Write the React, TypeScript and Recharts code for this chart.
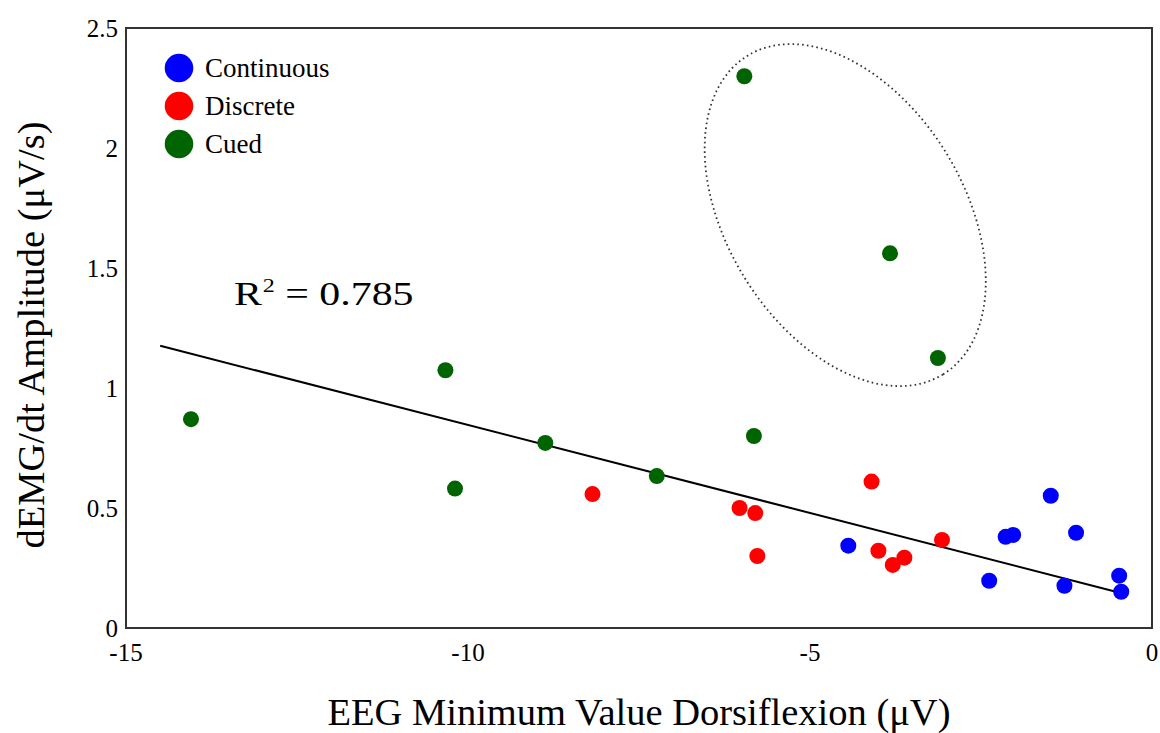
import React from "react";
import {
  ReferenceArea,
  ReferenceDot,
  ReferenceLine,
  Scatter,
  ScatterChart,
  XAxis,
  YAxis,
} from "recharts";

const FONT = '"Liberation Serif", "Times New Roman", serif';

// points: EEG minimum (µV) vs dEMG/dt amplitude (µV/s)
const continuous = [
  { x: -4.44, y: 0.343 },
  { x: -2.38, y: 0.197 },
  { x: -2.14, y: 0.38 },
  { x: -2.03, y: 0.388 },
  { x: -1.48, y: 0.551 },
  { x: -1.11, y: 0.397 },
  { x: -1.28, y: 0.176 },
  { x: -0.48, y: 0.218 },
  { x: -0.45, y: 0.151 },
];

const discrete = [
  { x: -8.18, y: 0.558 },
  { x: -6.03, y: 0.5 },
  { x: -5.8, y: 0.479 },
  { x: -5.77, y: 0.3 },
  { x: -4.1, y: 0.61 },
  { x: -4.0, y: 0.322 },
  { x: -3.79, y: 0.263 },
  { x: -3.62, y: 0.293 },
  { x: -3.07, y: 0.367 },
];

const cued = [
  { x: -14.05, y: 0.87 },
  { x: -10.33, y: 1.074 },
  { x: -10.19, y: 0.581 },
  { x: -8.87, y: 0.771 },
  { x: -7.24, y: 0.633 },
  { x: -5.82, y: 0.8 },
  { x: -5.96, y: 2.299 },
  { x: -3.83, y: 1.561 },
  { x: -3.13, y: 1.125 },
];

const trendline = [
  { x: -14.5, y: 1.176 },
  { x: -0.4, y: 0.142 },
];

// bounding box of the dotted outlier ellipse, in data units
const outlierBox = { x1: -6.54, x2: -2.43, y1: 1.008, y2: 2.433 };

const xTicks = [-15, -10, -5, 0];
const yTicks = [0, 0.5, 1, 1.5, 2, 2.5];

const series = [
  { name: "Continuous", color: "#0000ff", data: continuous },
  { name: "Discrete", color: "#ff0000", data: discrete },
  { name: "Cued", color: "#006400", data: cued },
];

const dotShape = (color: string) => (p: any) =>
  <circle cx={p.cx} cy={p.cy} r={8} fill={color} />;

// rotated ellipse that fits the given bounding rect
function EllipseShape(p: any) {
  const { x, y, width, height } = p;
  const W = width / 2;
  const H = height / 2;
  const deg = 58.5;
  const t = (deg * Math.PI) / 180;
  const c2 = Math.cos(t) ** 2;
  const s2 = Math.sin(t) ** 2;
  const d = c2 - s2;
  const a = Math.sqrt(Math.max(1, (W * W * c2 - H * H * s2) / d));
  const b = Math.sqrt(Math.max(1, (H * H * c2 - W * W * s2) / d));
  const cx = x + W;
  const cy = y + H;
  return (
    <ellipse
      cx={cx}
      cy={cy}
      rx={a}
      ry={b}
      transform={`rotate(${deg} ${cx} ${cy})`}
      fill="none"
      stroke="#333"
      strokeWidth={1.8}
      strokeDasharray="1.6 3.2"
    />
  );
}

// the R² annotation is drawn a bit wide in the original, hence the x-stretch
function R2Label(p: any) {
  const { viewBox } = p;
  return (
    <text
      x={0}
      y={0}
      transform={`translate(${viewBox.x} ${viewBox.y}) scale(1.27 1)`}
      style={{ fontFamily: FONT }}
      fontSize={33}
      fill="#000"
    >
      <tspan>R</tspan>
      <tspan dx={0.5} dy={-13} fontSize={19}>2</tspan>
      <tspan dy={13} fontSize={33}> = 0.785</tspan>
    </text>
  );
}

function LegendBox() {
  return (
    <div
      style={{
        position: "absolute",
        left: 164,
        top: 49,
        fontFamily: FONT,
        fontSize: 27,
        color: "#000",
      }}
    >
      {series.map((s) => (
        <div key={s.name} style={{ display: "flex", alignItems: "center", height: 38 }}>
          <svg width={30} height={30} style={{ marginRight: 11 }}>
            <circle cx={15} cy={15} r={14.3} fill={s.color} />
          </svg>
          <span>{s.name}</span>
        </div>
      ))}
    </div>
  );
}

const tickStyle = { fontSize: 25, fill: "#000", fontFamily: FONT };

export default function App() {
  return (
    <div style={{ position: "absolute", left: 0, top: 0, width: 1160, height: 733, background: "#fff" }}>
      <ScatterChart
        width={1160}
        height={733}
        margin={{ top: 28, right: 8, left: 0, bottom: 0 }}
        style={{ fontFamily: FONT }}
      >
        <XAxis
          type="number"
          dataKey="x"
          domain={[-15, 0]}
          ticks={xTicks}
          allowDataOverflow
          height={105}
          axisLine={false}
          tickLine={false}
          tickMargin={9}
          tick={tickStyle}
          label={{
            content: (p: any) => (
              <text
                x={p.viewBox.x + p.viewBox.width / 2}
                y={p.viewBox.y + 97}
                textAnchor="middle"
                style={{ fontFamily: FONT }}
                fontSize={38.5}
                fill="#000"
              >
                EEG Minimum Value Dorsiflexion (μV)
              </text>
            ),
          }}
        />
        <YAxis
          type="number"
          dataKey="y"
          domain={[0, 2.5]}
          ticks={yTicks}
          allowDataOverflow
          width={126}
          axisLine={false}
          tickLine={false}
          tick={tickStyle}
          label={{
            content: (p: any) => {
              const cx = 44;
              const cy = p.viewBox.y + p.viewBox.height / 2 + 7;
              return (
                <text
                  x={cx}
                  y={cy}
                  transform={`rotate(-90 ${cx} ${cy})`}
                  textAnchor="middle"
                  style={{ fontFamily: FONT }}
                  fontSize={38.5}
                  fill="#000"
                >
                  dEMG/dt Amplitude (μV/s)
                </text>
              );
            },
          }}
        />
        <ReferenceArea
          x1={-15}
          x2={0}
          y1={0}
          y2={2.5}
          fill="none"
          stroke="#333"
          strokeWidth={2}
          fillOpacity={0}
        />
        <ReferenceArea
          x1={outlierBox.x1}
          x2={outlierBox.x2}
          y1={outlierBox.y1}
          y2={outlierBox.y2}
          shape={EllipseShape}
        />
        <ReferenceLine segment={trendline} stroke="#000" strokeWidth={2} />
        <ReferenceDot x={-13.42} y={1.346} r={0} fill="none" stroke="none" label={<R2Label />} />
        {series.map((s) => (
          <Scatter
            key={s.name}
            name={s.name}
            data={s.data}
            fill={s.color}
            shape={dotShape(s.color)}
            isAnimationActive={false}
          />
        ))}
      </ScatterChart>
      <LegendBox />
    </div>
  );
}
